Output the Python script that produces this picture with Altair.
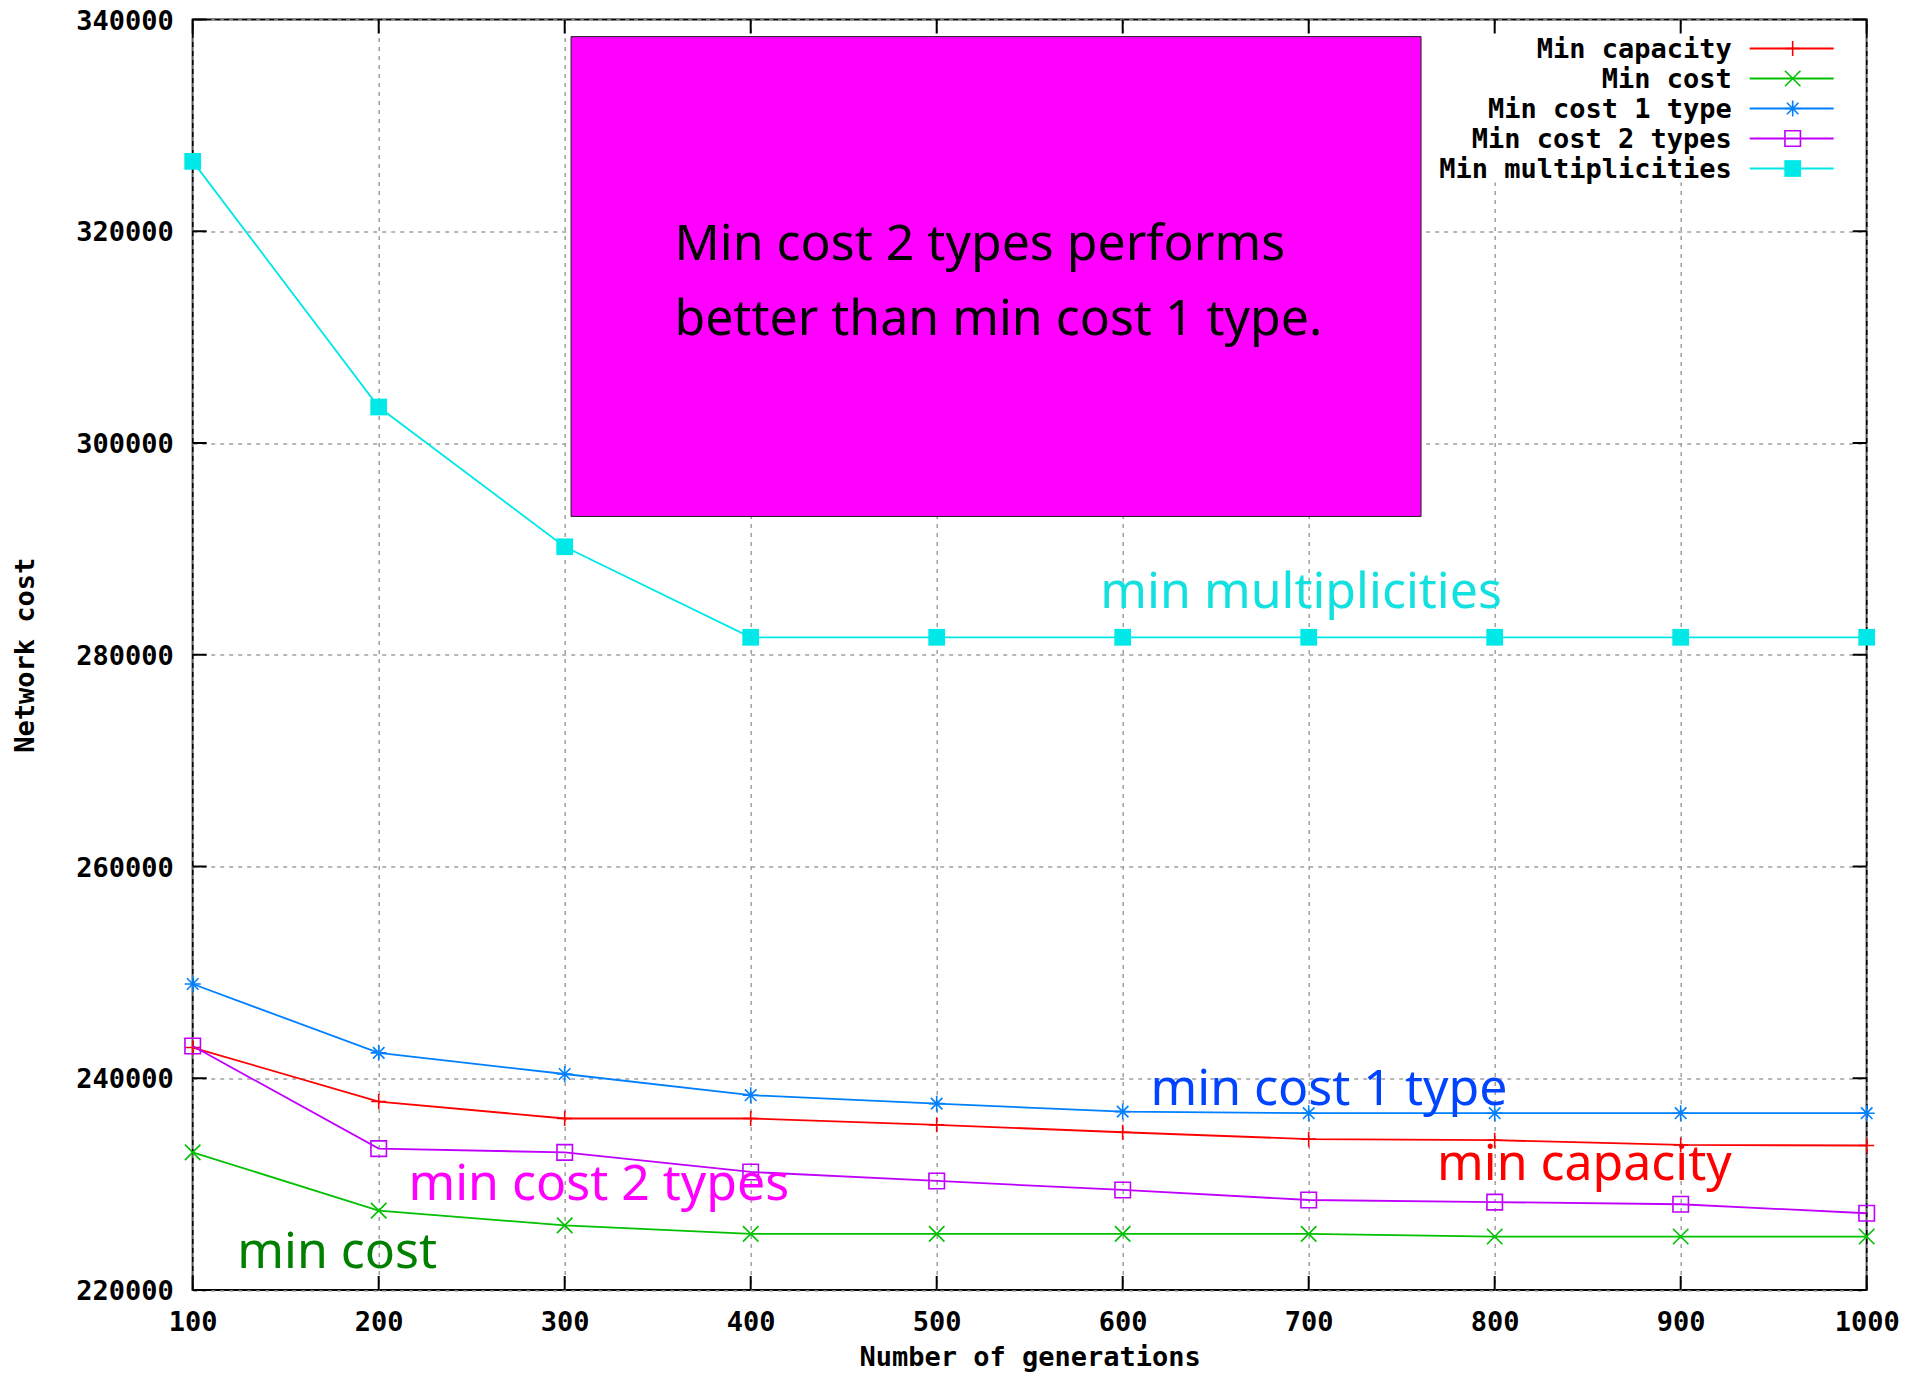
import altair as alt
import pandas as pd

# ---------------- data ----------------
generations = [100, 200, 300, 400, 500, 600, 700, 800, 900, 1000]

min_capacity = [242900, 237800, 236200, 236200, 235600, 234900, 234250, 234150, 233700, 233650]
min_cost = [233000, 227500, 226100, 225300, 225300, 225300, 225300, 225050, 225050, 225050]
min_cost_1_type = [248900, 242400, 240400, 238400, 237600, 236850, 236700, 236700, 236700, 236700]
min_cost_2_types = [243050, 233350, 233000, 231150, 230300, 229450, 228500, 228300, 228100, 227250]
min_multiplicities = [326600, 303400, 290200, 281650, 281650, 281650, 281650, 281650, 281650, 281650]

series_names = ["Min capacity", "Min cost", "Min cost 1 type", "Min cost 2 types", "Min multiplicities"]
series_values = [min_capacity, min_cost, min_cost_1_type, min_cost_2_types, min_multiplicities]

x_ticks = [100, 200, 300, 400, 500, 600, 700, 800, 900, 1000]
y_ticks = [220000, 240000, 260000, 280000, 300000, 320000, 340000]

annot_texts = ["min multiplicities", "min cost 1 type", "min capacity", "min cost 2 types", "min cost"]
annot_x = [588, 615, 769, 216, 124]
annot_y = [284400, 237470, 230390, 228500, 222080]

note_box_x = [303.4, 760.4]
note_box_y = [293060, 338385]
note_lines = ["Min cost 2 types performs", "better than min cost 1 type."]
note_x = [359, 359]
note_y = [317285, 310200]

# ---------------- style ----------------
W, H = 1674, 1270.5
series_colors = ["#ff0000", "#00c000", "#0080ff", "#c000ff", "#00e8e8"]
PLUS = "M-1,0L1,0M0,-1L0,1"
CROSS = "M-1,-1L1,1M-1,1L1,-1"
STAR = "M-1,0L1,0M0,-1L0,1M-0.72,-0.72L0.72,0.72M-0.72,0.72L0.72,-0.72"
series_shapes = [PLUS, CROSS, STAR, "square", "square"]
series_sizes = [225, 240, 256, 240, 280]
series_filled = [False, False, False, False, True]
annot_colors = ["#14e0e0", "#0044ff", "#ff0000", "#ff00ff", "#008000"]

MONO = "DejaVu Sans Mono"
SANS = "Noto Sans"
FS = 27

xscale = alt.Scale(domain=[100, 1000], nice=False, zero=False)
yscale = alt.Scale(domain=[220000, 340000], nice=False, zero=False)

x_axis = alt.Axis(values=x_ticks, format="d", title="Number of generations",
                  grid=True, gridColor="#a0a0a0", gridDash=[4, 5], gridWidth=1.5,
                  ticks=False, tickSize=0, domain=False, labelFlush=False, labelOverlap=False,
                  labelFont=MONO, labelFontWeight="bold", labelFontSize=FS, labelColor="black",
                  labelPadding=19.7, titleFont=MONO, titleFontWeight="bold", titleFontSize=FS,
                  titleColor="black", titlePadding=9)
y_axis = alt.Axis(values=y_ticks, format="d", title="Network cost",
                  grid=True, gridColor="#a0a0a0", gridDash=[4, 5], gridWidth=1.5,
                  ticks=False, tickSize=0, domain=False, labelFlush=False, labelOverlap=False,
                  labelFont=MONO, labelFontWeight="bold", labelFontSize=FS, labelColor="black",
                  labelPadding=19.4, labelOffset=1.7, titleFont=MONO, titleFontWeight="bold",
                  titleFontSize=FS, titleColor="black", titlePadding=36)


def X(field):
    return alt.X(field, scale=xscale, axis=x_axis)


def Y(field):
    return alt.Y(field, scale=yscale, axis=y_axis)


layers = []

# series lines and markers
for i, (name, vals) in enumerate(zip(series_names, series_values)):
    df = pd.DataFrame({"gen": generations, "cost": vals, "series": name})
    base = alt.Chart(df)
    line = base.mark_line(color=series_colors[i], strokeWidth=1.8).encode(
        x=X("gen:Q"), y=Y("cost:Q"))
    pts = base.mark_point(shape=series_shapes[i], size=series_sizes[i],
                          filled=series_filled[i], color=series_colors[i],
                          strokeWidth=1.6, opacity=1).encode(
        x=X("gen:Q"), y=Y("cost:Q"))
    layers += [line, pts]

# note box
box_df = pd.DataFrame({"gen": [note_box_x[0]], "gen2": [note_box_x[1]],
                       "cost": [note_box_y[0]], "cost2": [note_box_y[1]]})
box = alt.Chart(box_df).mark_rect(fill="#ff00ff", stroke="#222222", strokeWidth=1).encode(
    x=X("gen:Q"), x2="gen2:Q", y=Y("cost:Q"), y2="cost2:Q")
note_df = pd.DataFrame({"gen": note_x, "cost": note_y, "t": note_lines})
note = alt.Chart(note_df).mark_text(align="left", baseline="alphabetic", font=SANS,
                                    fontSize=50, color="black").encode(
    x=X("gen:Q"), y=Y("cost:Q"), text="t:N")
layers += [box, note]

# series annotations
for i, t in enumerate(annot_texts):
    adf = pd.DataFrame({"gen": [annot_x[i]], "cost": [annot_y[i]], "t": [t]})
    layers.append(alt.Chart(adf).mark_text(align="left", baseline="alphabetic", font=SANS,
                                           fontSize=50, color=annot_colors[i]).encode(
        x=X("gen:Q"), y=Y("cost:Q"), text="t:N"))

# gnuplot-style key (top right): label, then sample line + marker
key_bg = alt.Chart(pd.DataFrame({"k": [0]})).mark_rect(fill="white").encode(
    x=alt.value(1236), x2=alt.value(1660), y=alt.value(8), y2=alt.value(163))
layers.append(key_bg)
for i, name in enumerate(series_names):
    kdf = pd.DataFrame({"name": [name]})
    ky = 30.5 + i * 30
    layers.append(alt.Chart(kdf).mark_text(align="right", baseline="middle", font=MONO,
                                           fontWeight="bold", fontSize=FS, color="black").encode(
        x=alt.value(1539), y=alt.value(ky), text="name:N"))
    layers.append(alt.Chart(kdf).mark_rule(color=series_colors[i], strokeWidth=1.8).encode(
        x=alt.value(1557), x2=alt.value(1641), y=alt.value(ky - 1.5)))
    layers.append(alt.Chart(kdf).mark_point(shape=series_shapes[i], size=series_sizes[i],
                                            filled=series_filled[i], color=series_colors[i],
                                            strokeWidth=1.6, opacity=1).encode(
        x=alt.value(1600), y=alt.value(ky - 1.5)))

# inward, mirrored tick marks
xt = pd.DataFrame({"gen": x_ticks})
yt = pd.DataFrame({"cost": y_ticks})
TL = 14
layers.append(alt.Chart(yt).mark_rule(color="black", strokeWidth=2).encode(
    y=Y("cost:Q"), x=alt.value(0), x2=alt.value(TL)))
layers.append(alt.Chart(yt).mark_rule(color="black", strokeWidth=2).encode(
    y=Y("cost:Q"), x=alt.value(W - TL), x2=alt.value(W)))
layers.append(alt.Chart(xt).mark_rule(color="black", strokeWidth=2).encode(
    x=X("gen:Q"), y=alt.value(H), y2=alt.value(H - TL)))
layers.append(alt.Chart(xt).mark_rule(color="black", strokeWidth=2).encode(
    x=X("gen:Q"), y=alt.value(0), y2=alt.value(TL)))

chart = alt.layer(*layers).properties(
    width=W, height=H,
    autosize=alt.AutoSizeParams(type="none"),
    padding={"left": 184.7, "top": 11.5, "right": 39, "bottom": 84},
    background="white",
).configure_view(stroke="black", strokeWidth=2)

chart.save("out.html", embed_options={"renderer": "svg", "actions": False})
